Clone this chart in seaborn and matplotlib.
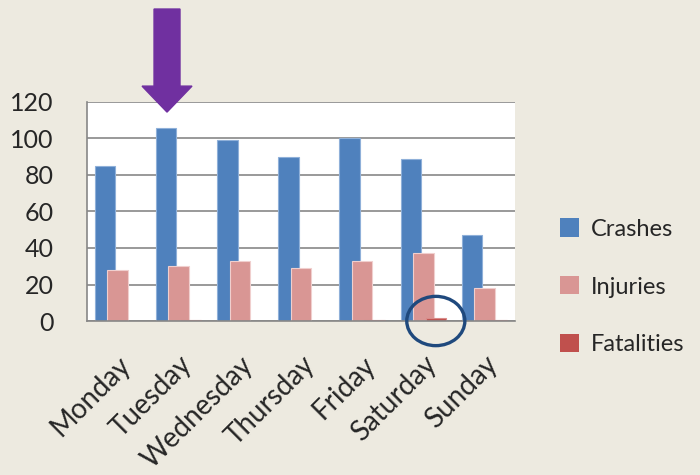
import numpy as np
import pandas as pd
import matplotlib
matplotlib.use("Agg")
import matplotlib.pyplot as plt
from matplotlib.patches import Patch, Ellipse, FancyArrow
import seaborn as sns

days = ["Monday", "Tuesday", "Wednesday", "Thursday", "Friday", "Saturday", "Sunday"]
crashes = [85, 106, 99, 90, 100, 89, 47]
injuries = [28, 30, 33, 29, 33, 37, 18]
fatalities = [0, 0.3, 0, 0, 0.3, 1.5, 0.3]
series = ["Crashes", "Injuries", "Fatalities"]
y_ticks = [0, 20, 40, 60, 80, 100, 120]

colors = ["#4F81BD", "#D99694", "#C0504D"]
edge_colors = ["#8FB0D9", "#F0CFCE", "#D98C8A"]
bg = "#EDEAE0"

df = pd.DataFrame({"day": days, "Crashes": crashes,
                   "Injuries": injuries, "Fatalities": fatalities})
long_df = df.melt(id_vars="day", value_vars=series,
                  var_name="series", value_name="value")

sns.set_style("white")
plt.rcParams["font.family"] = ["Lato", "DejaVu Sans"]

fig = plt.figure(figsize=(7, 4.75), dpi=100, facecolor=bg)
ax = fig.add_axes([0.1243, 0.3242, 0.6114, 0.4611])
ax.set_facecolor("white")

sns.barplot(data=long_df, x="day", y="value", hue="series",
            hue_order=series, palette=colors, width=0.8,
            legend=False, ax=ax, errorbar=None, saturation=1)

# Overlapping clustered bars: narrower step between series than bar width
step, bar_w = 0.205, 0.335
n = len(series)
for k, p in enumerate(ax.patches):
    c = p.get_x() + p.get_width() / 2
    i = round(c)
    off = (c - i) / (0.8 / n) * step
    p.set_width(bar_w)
    p.set_x(i + off - bar_w / 2)
    s = k // len(days)
    p.set_edgecolor(edge_colors[s])
    p.set_linewidth(0.8)

ax.set_xlim(-0.5, len(days) - 0.5)
ax.set_ylim(0, 120)
ax.set_yticks(y_ticks)
ax.set_yticklabels([str(v) for v in y_ticks], fontsize=18)
ax.set_xlabel("")
ax.set_ylabel("")
ax.grid(axis="y", color="#878787", linewidth=1.2)
ax.set_axisbelow(True)
for side in ["top", "right"]:
    ax.spines[side].set_visible(False)
for side in ["left", "bottom"]:
    ax.spines[side].set_color("#878787")
    ax.spines[side].set_linewidth(1.2)
ax.tick_params(axis="y", length=0, pad=24)
ax.tick_params(axis="x", length=0, pad=22)
for lab in ax.get_xticklabels():
    lab.set_rotation(45)
    lab.set_ha("right")
    lab.set_rotation_mode("anchor")
    lab.set_fontsize(20)

handles = [Patch(facecolor=c, edgecolor="none") for c in colors]
fig.legend(handles, series, loc="center left", bbox_to_anchor=(0.8, 0.396),
           frameon=False, fontsize=17, handlelength=0.8, handleheight=0.8,
           handletextpad=0.5, labelspacing=1.55, borderpad=0,
           borderaxespad=0)

# Arrow pointing at Tuesday's crashes
fig.patches.append(FancyArrow(0.2386, 0.981, 0, -0.217, width=0.0371,
                              head_width=0.0714, head_length=0.0547,
                              length_includes_head=True, color="#7030A0",
                              transform=fig.transFigure, figure=fig))

# Circle around Saturday's fatalities
ax.add_patch(Ellipse((5 + step, 0), width=0.95, height=27, fill=False,
                     edgecolor="#1F497D", linewidth=2.4, clip_on=False,
                     zorder=5))

fig.savefig("out.png", dpi=100, facecolor=bg)
